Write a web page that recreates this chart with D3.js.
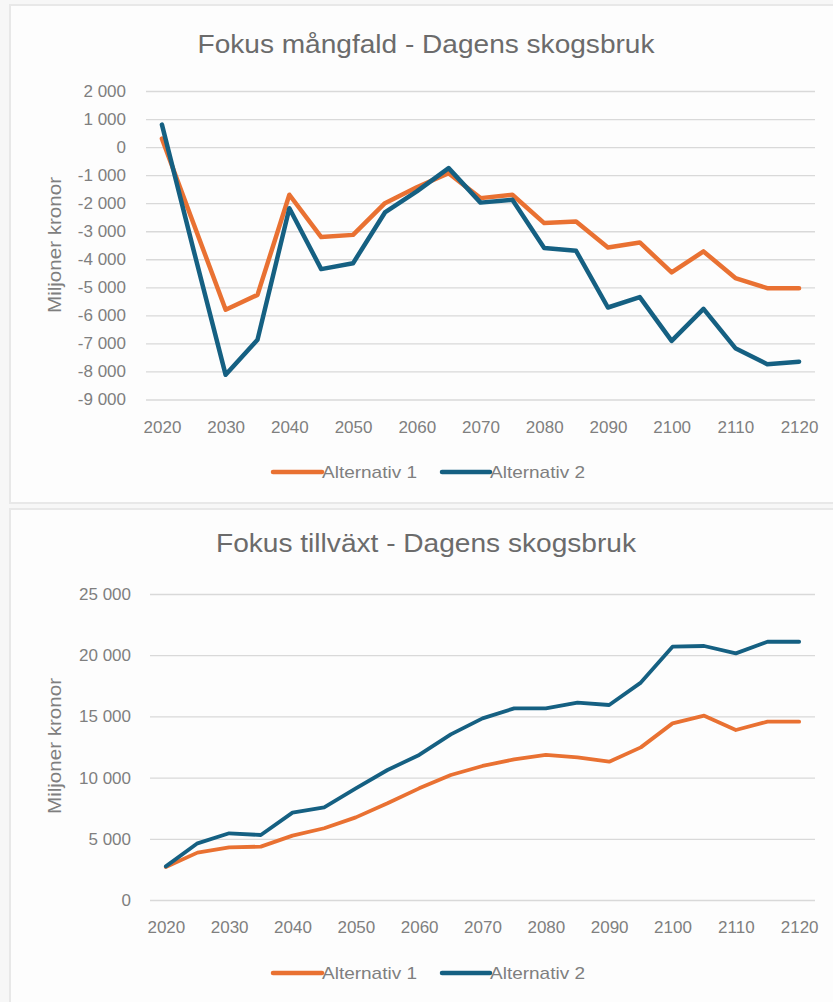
<!DOCTYPE html>
<html>
<head>
<meta charset="utf-8">
<script src="https://cdn.jsdelivr.net/npm/d3@7/dist/d3.min.js"></script>
<style>
  html, body { margin: 0; padding: 0; background: #f7f7f7; }
  svg { display: block; }
  text { font-family: "Liberation Sans", Arial, sans-serif; }
</style>
</head>
<body>
<svg id="chart" width="833" height="1002"></svg>
<script>
// ---- Data ----
const years = [2020, 2025, 2030, 2035, 2040, 2045, 2050, 2055, 2060, 2065, 2070,
               2075, 2080, 2085, 2090, 2095, 2100, 2105, 2110, 2115, 2120];
const xTickLabels = [2020, 2030, 2040, 2050, 2060, 2070, 2080, 2090, 2100, 2110, 2120];

const seriesNames = ["Alternativ 1", "Alternativ 2"];

// Chart 1: Fokus mångfald - Dagens skogsbruk
const title1 = "Fokus mångfald - Dagens skogsbruk";
const mangfaldAlt1 = [300, -2750, -5800, -5270, -1700, -3210, -3130, -2000, -1430, -930, -1820,
                      -1700, -2710, -2650, -3580, -3400, -4470, -3720, -4670, -5030, -5030];
const mangfaldAlt2 = [800, -3700, -8120, -6870, -2180, -4350, -4140, -2330, -1580, -750, -1980,
                      -1880, -3600, -3700, -5720, -5350, -6910, -5770, -7170, -7740, -7650];
const yTicks1 = [2000, 1000, 0, -1000, -2000, -3000, -4000, -5000, -6000, -7000, -8000, -9000];

// Chart 2: Fokus tillväxt - Dagens skogsbruk
const title2 = "Fokus tillväxt - Dagens skogsbruk";
const tillvaxtAlt1 = [2700, 3870, 4300, 4360, 5260, 5860, 6750, 7900, 9120, 10210, 10950,
                      11490, 11850, 11660, 11300, 12470, 14430, 15060, 13890, 14570, 14570];
const tillvaxtAlt2 = [2750, 4630, 5450, 5310, 7140, 7570, 9120, 10620, 11850, 13530, 14840,
                      15660, 15660, 16120, 15930, 17760, 20700, 20750, 20150, 21100, 21100];
const yTicks2 = [0, 5000, 10000, 15000, 20000, 25000];

const yAxisTitle = "Miljoner kronor";
const colors = ["#E97132", "#156082"];

// ---- Drawing ----
const svg = d3.select("#chart");
const locale = d3.formatLocale({decimal: ",", thousands: " ", grouping: [3], currency: ["", " kr"], minus: "-"});
const fmt = locale.format(",d");

// panels
svg.append("rect").attr("x", 0).attr("y", 0).attr("width", 833).attr("height", 1002).attr("fill", "#f7f7f7");
svg.append("rect").attr("x", 10).attr("y", 5).attr("width", 830).attr("height", 498)
  .attr("fill", "#fdfdfd").attr("stroke", "#e8e8e8").attr("stroke-width", 2);
svg.append("rect").attr("x", 10).attr("y", 509).attr("width", 830).attr("height", 500)
  .attr("fill", "#fdfdfd").attr("stroke", "#e8e8e8").attr("stroke-width", 2);

function drawChart(cfg) {
  const g = svg.append("g");
  const x = d3.scalePoint().domain(years).range([cfg.left, cfg.right]).padding(0.5);
  const y = d3.scaleLinear().domain(cfg.domain).range([cfg.bottom, cfg.top]);

  // title
  g.append("text").attr("x", cfg.titleX).attr("y", cfg.titleY)
    .attr("text-anchor", "middle").attr("font-size", 25).attr("fill", "#6b6b6b")
    .attr("textLength", cfg.titleLen).attr("lengthAdjust", "spacingAndGlyphs")
    .text(cfg.title);

  // gridlines + y labels via axis
  const yAxis = d3.axisLeft(y).tickValues(cfg.yTicks).tickFormat(fmt)
    .tickSize(-(cfg.right - cfg.left)).tickPadding(cfg.left - cfg.labelRight);
  const ya = g.append("g").attr("transform", `translate(${cfg.left},0)`).call(yAxis);
  ya.select(".domain").remove();
  ya.selectAll(".tick line").attr("stroke", "#d9d9d9").attr("stroke-width", 1.3);
  ya.selectAll(".tick text").attr("font-size", 17).attr("fill", "#7f7f7f")
    .attr("font-family", "'Liberation Sans', Arial, sans-serif");

  // x axis labels
  const xAxis = d3.axisBottom(x).tickValues(xTickLabels).tickSize(0).tickPadding(0);
  const xa = g.append("g").attr("transform", `translate(0,${cfg.xLabelY})`).call(xAxis);
  xa.select(".domain").remove();
  xa.selectAll(".tick text").attr("font-size", 17).attr("fill", "#7f7f7f").attr("dy", 0)
    .attr("font-family", "'Liberation Sans', Arial, sans-serif");

  // y axis title
  g.append("text").attr("transform", `translate(${cfg.yTitleX},${cfg.yTitleY}) rotate(-90)`)
    .attr("text-anchor", "middle").attr("dy", "0.35em").attr("font-size", 18).attr("fill", "#7f7f7f")
    .attr("textLength", 136).attr("lengthAdjust", "spacingAndGlyphs")
    .text(yAxisTitle);

  // lines
  const line = d3.line().x((d, i) => x(years[i])).y(d => y(d)).curve(d3.curveLinear);
  cfg.series.forEach((s, i) => {
    g.append("path").datum(s).attr("d", line).attr("fill", "none")
      .attr("stroke", colors[i]).attr("stroke-width", cfg.lw)
      .attr("stroke-linejoin", "round").attr("stroke-linecap", "round");
  });

  // legend
  const leg = [[273, 322, 322, 95], [442, 490, 490, 95]];
  seriesNames.forEach((n, i) => {
    const [x1, x2, tx, tl] = leg[i];
    g.append("line").attr("x1", x1).attr("x2", x2).attr("y1", cfg.legendY).attr("y2", cfg.legendY)
      .attr("stroke", colors[i]).attr("stroke-width", 4.5).attr("stroke-linecap", "round");
    g.append("text").attr("x", tx).attr("y", cfg.legendY).attr("dy", "0.35em")
      .attr("font-size", 17).attr("fill", "#7f7f7f")
      .attr("textLength", tl).attr("lengthAdjust", "spacingAndGlyphs").text(n);
  });
}

drawChart({
  title: title1, titleX: 426, titleY: 53, titleLen: 457,
  left: 146, right: 815, top: 91, bottom: 399.5, domain: [-9000, 2000],
  yTicks: yTicks1, labelRight: 126, xLabelY: 433,
  yTitleX: 55, yTitleY: 245, legendY: 472,
  series: [mangfaldAlt1, mangfaldAlt2], lw: 4.5
});

drawChart({
  title: title2, titleX: 426, titleY: 552, titleLen: 420,
  left: 150, right: 815, top: 594, bottom: 900, domain: [0, 25000],
  yTicks: yTicks2, labelRight: 131, xLabelY: 933,
  yTitleX: 55, yTitleY: 746, legendY: 973,
  series: [tillvaxtAlt1, tillvaxtAlt2], lw: 3.8
});
</script>
</body>
</html>
